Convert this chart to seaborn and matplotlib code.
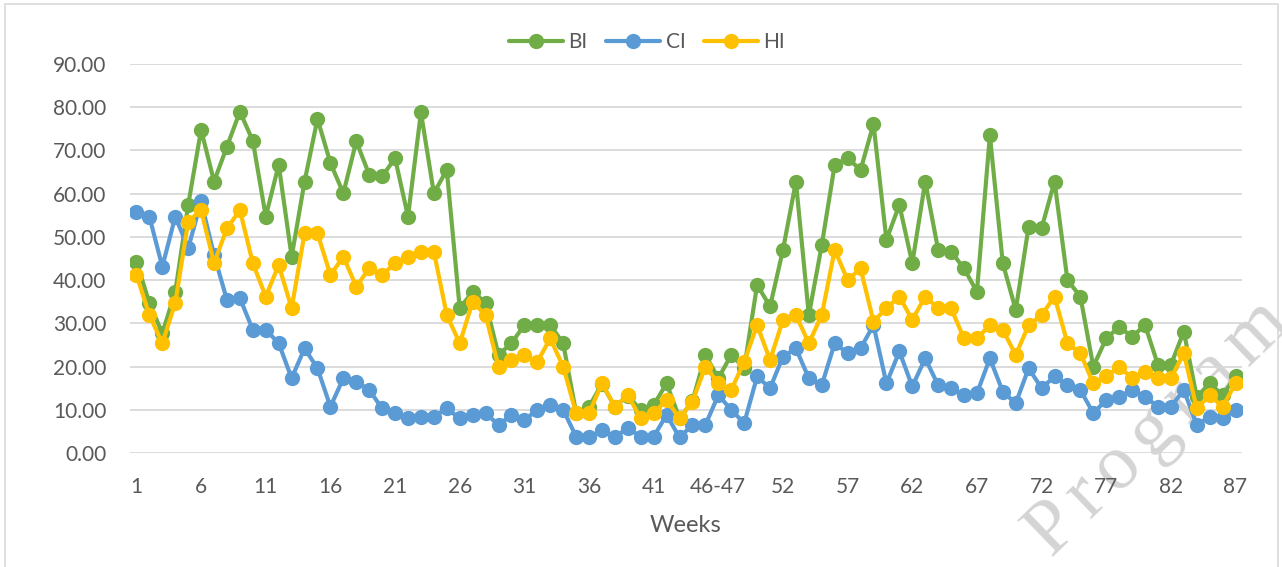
import numpy as np
import pandas as pd
import matplotlib
matplotlib.use("Agg")
import matplotlib.pyplot as plt
import seaborn as sns

# ---- data ----
weeks = [str(w) for w in range(1, 46)] + ["46-47"] + [str(w) for w in range(48, 88)]

BI = [44.3, 34.7, 27.7, 37.3, 57.4, 74.8, 62.8, 70.9, 79.0, 72.2,
      54.7, 66.7, 45.4, 62.8, 77.3, 67.1, 60.1, 72.1, 64.4, 64.0,
      68.2, 54.7, 78.8, 60.1, 65.5, 33.5, 37.3, 34.8, 22.7, 25.4,
      29.6, 29.6, 29.6, 25.4, 9.3, 10.7, 16.0, 10.7, 13.3, 9.9,
      11.1, 16.1, 8.0, 12.0, 22.7, 17.3, 22.7, 19.6, 38.9, 33.9,
      47.0, 62.8, 31.9, 48.1, 66.7, 68.2, 65.5, 76.1, 49.3, 57.4,
      43.9, 62.8, 47.0, 46.6, 42.7, 37.3, 73.5, 43.9, 33.1, 52.4,
      52.0, 62.8, 40.0, 36.2, 20.0, 26.5, 29.2, 26.9, 29.6, 20.4,
      20.4, 28.1, 13.0, 16.1, 13.4, 17.7]

CI = [55.7, 54.7, 43.1, 54.7, 47.4, 58.2, 45.8, 35.4, 35.8, 28.5,
      28.5, 25.4, 17.3, 24.2, 19.6, 10.7, 17.3, 16.5, 14.6, 10.3,
      9.2, 8.0, 8.4, 8.4, 10.3, 8.0, 8.8, 9.2, 6.5, 8.8,
      7.6, 10.0, 11.1, 10.0, 3.8, 3.6, 5.3, 3.8, 5.7, 3.8,
      3.8, 8.8, 3.6, 6.5, 6.5, 13.4, 10.0, 6.9, 17.7, 15.0,
      22.3, 24.2, 17.3, 15.7, 25.4, 23.1, 24.2, 29.6, 16.1, 23.5,
      15.4, 21.9, 15.7, 15.0, 13.4, 13.8, 21.9, 14.2, 11.5, 19.6,
      15.0, 17.7, 15.7, 14.6, 9.2, 12.3, 13.0, 14.6, 13.0, 10.7,
      10.7, 14.6, 6.5, 8.4, 8.0, 10.0]

HI = [41.2, 31.9, 25.4, 34.7, 53.5, 56.2, 43.9, 52.0, 56.2, 43.9,
      36.2, 43.5, 33.5, 50.8, 50.8, 41.2, 45.4, 38.5, 42.7, 41.2,
      43.9, 45.4, 46.6, 46.6, 31.9, 25.4, 35.0, 31.9, 20.0, 21.5,
      22.7, 21.1, 26.5, 20.0, 9.2, 9.2, 16.1, 10.7, 13.4, 8.0,
      9.2, 12.3, 8.0, 11.9, 20.0, 16.1, 14.6, 21.1, 29.6, 21.5,
      30.8, 31.9, 25.4, 31.9, 47.0, 40.0, 42.7, 30.4, 33.5, 36.2,
      30.8, 36.2, 33.5, 33.5, 26.5, 26.5, 29.6, 28.5, 22.7, 29.6,
      31.9, 36.2, 25.4, 23.1, 16.1, 17.7, 20.0, 17.3, 18.8, 17.3,
      17.3, 23.1, 10.3, 13.4, 10.7, 16.1]

series_names = ["BI", "CI", "HI"]
colors = {"BI": "#70AD47", "CI": "#5B9BD5", "HI": "#FFC000"}
y_ticks = [0, 10, 20, 30, 40, 50, 60, 70, 80, 90]
watermark = "Sample Program"

# ---- frame ----
rows = []
for name, vals in zip(series_names, [BI, CI, HI]):
    for i, v in enumerate(vals):
        rows.append({"pos": i, "week": weeks[i], "series": name, "value": v})
df = pd.DataFrame(rows)

sns.set_theme(style="white")
plt.rcParams["font.family"] = ["Lato", "DejaVu Sans"]

W, H = 1282, 567
fig = plt.figure(figsize=(W / 100, H / 100), dpi=100)
fig.patch.set_facecolor("white")

# chart border
fig.add_artist(plt.Rectangle((5 / W, -0.01), (1278 - 5) / W, 1 - 4 / H + 0.01,
                             transform=fig.transFigure, fill=False,
                             edgecolor="#D9D9D9", linewidth=1.2, zorder=-5))

left, right = 130 / W, 1242 / W
bottom, top = 1 - 453 / H, 1 - 64 / H
ax = fig.add_axes([left, bottom, right - left, top - bottom])
ax.patch.set_alpha(0)

sns.lineplot(data=df, x="pos", y="value", hue="series", hue_order=series_names,
             palette=colors, marker="o", markersize=11, markeredgewidth=0,
             linewidth=3.0, ax=ax, zorder=3)

ax.set_xlim(-0.5, len(weeks) - 0.5)
ax.set_ylim(0, 90)
ax.set_yticks(y_ticks)
ax.set_yticklabels([f"{t:.2f}" for t in y_ticks])
xt = list(range(0, len(weeks), 5))
ax.set_xticks(xt)
ax.set_xticklabels([weeks[i] for i in xt])
ax.tick_params(axis="both", length=0, labelsize=15, labelcolor="#595959")
ax.tick_params(axis="y", pad=17)
ax.tick_params(axis="x", pad=17)
ax.yaxis.grid(True, color="#D9D9D9", linewidth=1.3)
ax.set_axisbelow(True)
for s in ax.spines.values():
    s.set_visible(False)
ax.set_ylabel("")
ax.set_xlabel("Weeks", fontsize=17, color="#595959", labelpad=13)

sns.move_legend(ax, "center", bbox_to_anchor=(647 / W, 1 - 42 / H),
                bbox_transform=fig.transFigure, ncol=3, frameon=False,
                title=None, fontsize=15, handlelength=2.6, handletextpad=0.25,
                columnspacing=0.9, labelcolor="#595959")
leg = ax.get_legend()
for h in leg.legend_handles:
    h.set_linewidth(3.0)
    h.set_marker("o")
    h.set_markersize(11)
    h.set_markeredgewidth(0)

# ---- watermark: letter-spaced diagonal serif text ----
fs = 56
em = fs * 100 / 72.0
track = 11.0
theta = np.deg2rad(44)
u = np.array([np.cos(theta), np.sin(theta)])      # along baseline (y up)
v = np.array([-np.sin(theta), np.cos(theta)])     # glyph "up"
adv = {"S": .556, "a": .444, "m": .778, "p": .5, "l": .278, "e": .444,
       " ": .25, "P": .556, "r": .333, "o": .5, "g": .5}
anchor_idx = watermark.index("P")
p_vis = np.array([1048.0, H - 523.0])
centers = {anchor_idx: p_vis - 0.33 * em * v}
for k in range(anchor_idx + 1, len(watermark)):
    step = (adv[watermark[k - 1]] + adv[watermark[k]]) / 2 * em + track
    centers[k] = centers[k - 1] + step * u
for k in range(anchor_idx - 1, -1, -1):
    step = (adv[watermark[k + 1]] + adv[watermark[k]]) / 2 * em + track
    centers[k] = centers[k + 1] - step * u
for k, ch in enumerate(watermark):
    if ch == " ":
        continue
    cx, cy = centers[k]
    fig.text(cx / W, cy / H, ch, rotation=np.rad2deg(theta),
             rotation_mode="anchor", ha="center", va="baseline",
             fontsize=fs, family="Liberation Serif", color="#D4D4D4",
             zorder=-1)

fig.savefig("out.png", dpi=100, facecolor="white")
